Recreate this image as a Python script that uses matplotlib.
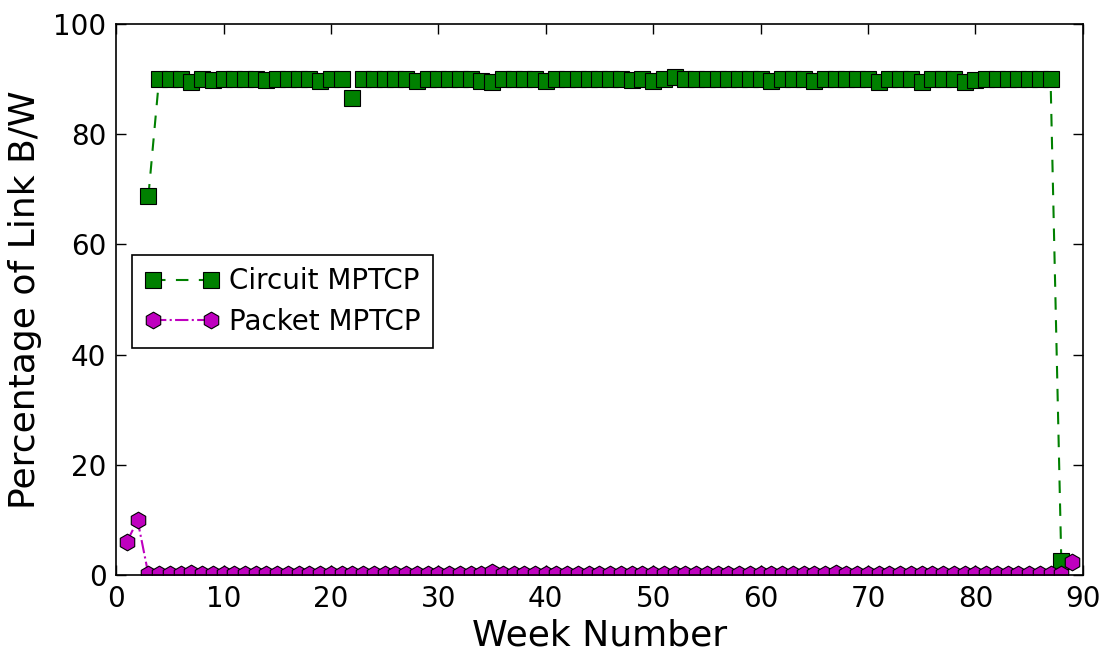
import numpy as np
import matplotlib
matplotlib.use("Agg")
import matplotlib.pyplot as plt

# Weekly share of link bandwidth
circuit_weeks = list(range(3, 89))
circuit_pct = [
    68.7, 90.1, 90.1, 90.1, 89.4, 90.1, 89.8, 90.1, 90.1, 90.1,   # 3-12
    90.1, 89.8, 90.1, 90.1, 90.1, 90.1, 89.7, 90.1, 90.1, 86.6,   # 13-22
    90.1, 90.1, 90.1, 90.1, 90.1, 89.7, 90.1, 90.1, 90.1, 90.1,   # 23-32
    90.1, 89.6, 89.5, 90.1, 90.1, 90.1, 90.1, 89.6, 90.1, 90.1,   # 33-42
    90.1, 90.1, 90.1, 90.1, 90.1, 89.8, 90.1, 89.7, 90.1, 90.4,   # 43-52
    90.1, 90.1, 90.1, 90.1, 90.1, 90.1, 90.1, 90.1, 89.6, 90.1,   # 53-62
    90.1, 90.0, 89.6, 90.1, 90.1, 90.1, 90.1, 90.1, 89.5, 90.1,   # 63-72
    90.1, 90.1, 89.5, 90.1, 90.1, 90.1, 89.5, 89.9, 90.1, 90.1,   # 73-82
    90.1, 90.1, 90.1, 90.1, 90.1, 2.6,                           # 83-88
]

packet_weeks = list(range(1, 90))
packet_pct = [6.0, 9.9] + [0.1] * 86 + [2.3]
packet_pct[7 - 1] = 0.3
packet_pct[35 - 1] = 0.5
packet_pct[67 - 1] = 0.3

plt.rcParams["font.family"] = "DejaVu Sans"

fig = plt.figure(figsize=(11.06, 6.51), dpi=100)
ax = fig.add_axes([0.105, 0.117, 0.874, 0.846])

ax.plot(circuit_weeks, circuit_pct, color="g", linestyle="--", linewidth=1.5,
        dashes=(6, 5), marker="s", markersize=12, markerfacecolor="g",
        markeredgecolor="black", markeredgewidth=0.8, label="Circuit MPTCP")
ax.plot(packet_weeks, packet_pct, color="m", linestyle="-.", linewidth=1.5,
        marker="h", markersize=12, markerfacecolor="m",
        markeredgecolor="black", markeredgewidth=0.8, label="Packet MPTCP")

ax.set_xlim(0, 90)
ax.set_ylim(0, 100)
ax.set_xticks(np.arange(0, 91, 10))
ax.set_yticks(np.arange(0, 101, 20))
ax.tick_params(direction="in", length=7, width=1, labelsize=20, pad=7,
               top=True, right=True)
for s in ax.spines.values():
    s.set_linewidth(1.2)

ax.set_xlabel("Week Number", fontsize=26, labelpad=4)
ax.set_ylabel("Percentage of Link B/W", fontsize=26, labelpad=8)

leg = ax.legend(loc="upper left", bbox_to_anchor=(0.0165, 0.581),
                borderaxespad=0, numpoints=2, fontsize=20, fancybox=False,
                framealpha=1, handlelength=2.7, borderpad=0.45,
                handletextpad=0.35, labelspacing=0.45)
leg.get_frame().set_edgecolor("black")
leg.get_frame().set_linewidth(1.2)

fig.savefig("out.png", dpi=100)
